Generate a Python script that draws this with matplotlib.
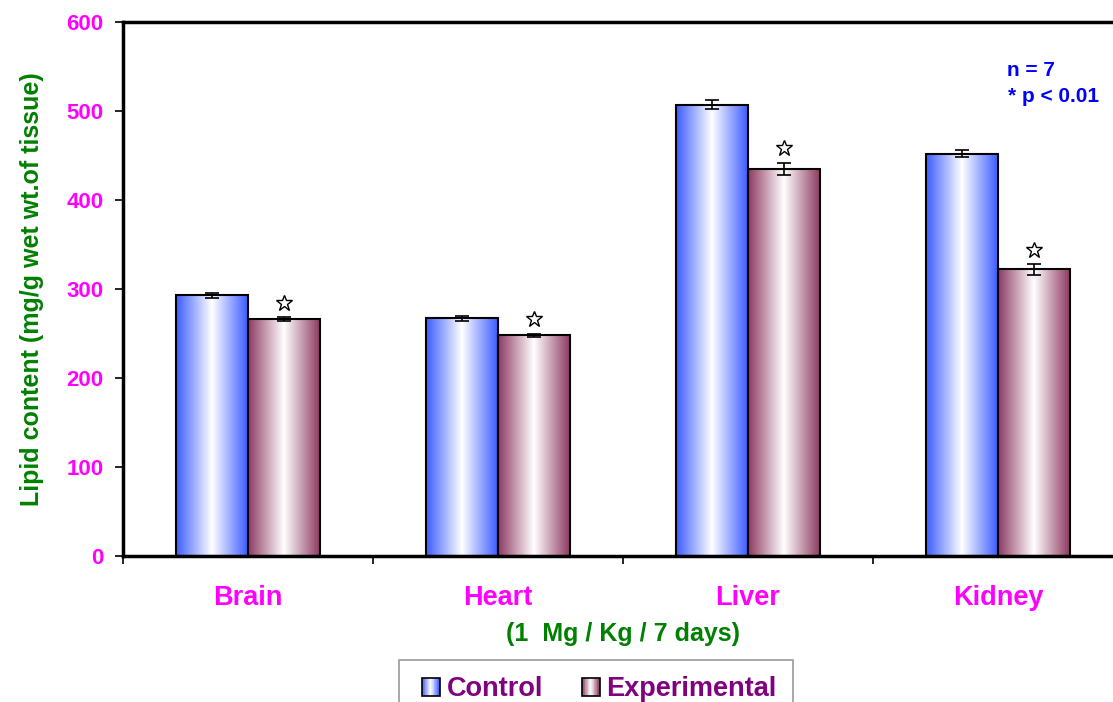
import numpy as np
import matplotlib
matplotlib.use("Agg")
import matplotlib.pyplot as plt
from matplotlib.patches import Rectangle
from matplotlib.colors import LinearSegmentedColormap
from matplotlib.legend_handler import HandlerBase

plt.rcParams['font.family'] = ['Liberation Sans', 'DejaVu Sans']
plt.rcParams['font.weight'] = 'bold'

organs = ['Brain', 'Heart', 'Liver', 'Kidney']
control = [293, 267, 507, 452]
control_err = [3, 3, 5, 4]
experimental = [266, 248, 435, 322]
experimental_err = [2, 2, 7, 6]

blue_cm = LinearSegmentedColormap.from_list('blue', ['#3c5cff', '#ffffff', '#3c5cff'])
maroon_cm = LinearSegmentedColormap.from_list('maroon', ['#8e3a62', '#ffffff', '#8e3a62'])
grad = np.linspace(0, 1, 256).reshape(1, -1)

fig = plt.figure(figsize=(11.13, 7.02), dpi=100)
ax = fig.add_axes([123 / 1113, 1 - 556 / 702, 1000 / 1113, 534 / 702])

x = np.arange(len(organs))
w = 0.288


def grad_bar(xc, h, cmap):
    rect = Rectangle((xc - w / 2, 0), w, h, facecolor='none', edgecolor='black', lw=1.5, zorder=3)
    ax.add_patch(rect)
    im = ax.imshow(grad, cmap=cmap, extent=(xc - w / 2, xc + w / 2, 0, h), aspect='auto', zorder=2)
    im.set_clip_path(rect)


for i in range(len(organs)):
    grad_bar(x[i] - w / 2, control[i], blue_cm)
    grad_bar(x[i] + w / 2, experimental[i], maroon_cm)

ax.errorbar(x - w / 2, control, yerr=control_err, fmt='none', ecolor='black', elinewidth=1.2, capsize=5, capthick=1.2, zorder=4)
ax.errorbar(x + w / 2, experimental, yerr=experimental_err, fmt='none', ecolor='black', elinewidth=1.2, capsize=5, capthick=1.2, zorder=4)

# significance markers above the experimental bars
star_y = [v + e + 16 for v, e in zip(experimental, experimental_err)]
ax.plot(x + w / 2, star_y, linestyle='none', marker='*', markersize=12, markerfacecolor='white',
        markeredgecolor='black', markeredgewidth=1.0, zorder=5)

ax.set_xlim(-0.5, 3.5)
ax.set_ylim(0, 600)
ax.set_yticks(range(0, 601, 100))
ax.set_xticks(x)
ax.set_xticklabels(organs, color='#ff00ff', fontsize=19.5, fontweight='bold')
ax.set_xticks(np.arange(-0.5, 3.6, 1), minor=True)
ax.tick_params(axis='x', which='major', length=0, pad=21)
ax.tick_params(axis='x', which='minor', length=6, width=1.2, direction='out')
ax.tick_params(axis='y', length=6, width=1.2, direction='out', labelsize=16, labelcolor='#ff00ff', pad=8)
for lab in ax.get_yticklabels():
    lab.set_fontweight('bold')

for s in ['left', 'bottom', 'top']:
    ax.spines[s].set_linewidth(2.5)
ax.spines['right'].set_visible(False)

ax.set_ylabel('Lipid content (mg/g wet wt.of tissue)', color='#008000', fontsize=18, fontweight='bold', labelpad=16)
ax.set_xlabel('(1  Mg / Kg / 7 days)', color='#008000', fontsize=18, fontweight='bold', labelpad=8)

ax.text(1007 / 1113, 1 - 71 / 702, 'n = 7', transform=fig.transFigure, color='#0000ff', fontsize=15,
        fontweight='bold', va='center')
ax.text(1008 / 1113, 1 - 96 / 702, '* p < 0.01', transform=fig.transFigure, color='#0000ff', fontsize=15,
        fontweight='bold', va='center')


class GradHandler(HandlerBase):
    def __init__(self, cmap):
        super().__init__()
        self.cmap = cmap

    def create_artists(self, legend, orig_handle, xdescent, ydescent, width, height, fontsize, trans):
        n = 24
        side = height * 0.95
        x0 = xdescent + width - side
        y0 = -ydescent
        arts = []
        for k in range(n):
            r = Rectangle((x0 + side * k / n, y0), side / n + 0.3, side,
                          facecolor=self.cmap(k / (n - 1)), edgecolor='none', transform=trans)
            arts.append(r)
        arts.append(Rectangle((x0, y0), side, side, facecolor='none', edgecolor='black', lw=1.2, transform=trans))
        return arts


h1 = Rectangle((0, 0), 1, 1)
h2 = Rectangle((0, 0), 1, 1)
leg = fig.legend([h1, h2], ['Control', 'Experimental'], loc='upper left',
                 bbox_to_anchor=(399 / 1113, 1 - 660 / 702), ncol=2, frameon=True, fancybox=False,
                 handler_map={h1: GradHandler(blue_cm), h2: GradHandler(maroon_cm)},
                 prop={'size': 19.5, 'weight': 'bold'}, handlelength=0.9, handletextpad=0.25,
                 columnspacing=1.2, borderpad=0.6, borderaxespad=0)
leg.get_frame().set_edgecolor('#808080')
leg.get_frame().set_linewidth(1.2)
for t in leg.get_texts():
    t.set_color('#800080')

fig.savefig('out.png', dpi=100)
